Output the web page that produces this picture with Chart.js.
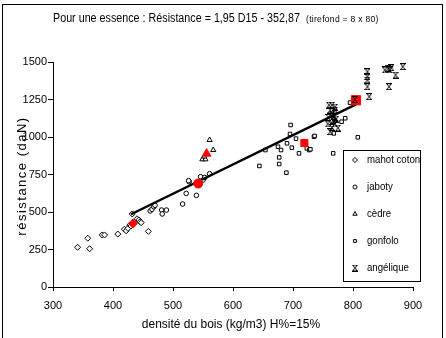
<!DOCTYPE html>
<html>
<head>
<meta charset="utf-8">
<script src="https://cdn.jsdelivr.net/npm/chart.js@4"></script>
<style>
  body { margin: 0; background: #fff; }
  #wrap { width: 446px; height: 338px; }
</style>
</head>
<body>
<div id="wrap"><canvas id="chart" width="446" height="338"></canvas></div>
<script>
// valeurs
let mahotCoton = [[341,265],[358,325],[361,255],[382,347],[386,347],[408,353],[419,385],[422,375],[425,391],[428,413],[430,407],[432,487],[440,455],[443,447],[445,435],[447,429],[459,371]]
let jaboty = [[462,507],[465,518],[468,535],[470,545],[481,513],[482,487],[489,513],[516,553],[522,624],[527,702],[526,709],[539,611],[546,735],[550,713],[553,730],[561,755]]
let cedre = [[549,851],[554,851],[552,870],[556,887],[561,980],[567,913]]
let gonfolo = [[644,807],[654,913],[675,935],[677,864],[677,820],[680,913],[689,762],[690,958],[695,1020],[696,1080],[698,929],[705,989],[710,891],[723,924],[727,913],[729,918],[735,1002],[736,1007],[767,891],[768,1024],[781,1102],[787,1125],[795,1229],[808,998]]
let angelique = [[760,1213],[765,1213],[770,1200],[762,1180],[770,1180],[765,1153],[759,1131],[768,1140],[767,1113],[772,1120],[758,1087],[770,1087],[765,1064],[775,1060],[762,1035],[803,1250],[824,1435],[824,1402],[824,1380],[824,1335],[827,1269],[853,1447],[859,1458],[861,1447],[864,1462],[871,1413],[883,1469],[860,1335]]
let moyennes = [[433,423],[542,690],[556,889],[719,960],[805,1245]]
let droite = [[430,485],[805,1217]]
let xTicks = [300,400,500,600,700,800,900]
let yTicks = [0,250,500,750,1000,1250,1500]
let legendLabels = ['mahot coton','jaboty','cèdre','gonfolo','angélique']

function pts(arr) {
    return arr.map(function(p) { return { x: p[0], y: p[1] } })
}

// marqueur "x" avec barres (angélique)
function makeCross(w, h, color) {
    let c = document.createElement('canvas')
    c.width = w
    c.height = h
    let g = c.getContext('2d')
    g.strokeStyle = color
    g.lineWidth = 1
    g.beginPath()
    g.moveTo(1, 1); g.lineTo(w - 1, h - 1)
    g.moveTo(w - 1, 1); g.lineTo(1, h - 1)
    g.moveTo(0, 0.5); g.lineTo(w, 0.5)
    g.moveTo(0, h - 0.5); g.lineTo(w, h - 0.5)
    g.stroke()
    return c
}
let crossImg = makeCross(6, 7, '#000')

let small = { borderColor: '#000', backgroundColor: '#fff', borderWidth: 1, showLine: false }

// texte un peu condensé, comme dans l'original
function narrowText(ctx, txt, x, y, sx) {
    ctx.save()
    ctx.translate(x, y)
    ctx.scale(sx, 1)
    ctx.fillText(txt, 0, 0)
    ctx.restore()
}

let decor = {
    id: 'decor',
    afterDraw: function(chart) {
        let ctx = chart.ctx
        ctx.save()
        // cadre
        ctx.strokeStyle = '#000'
        ctx.lineWidth = 1
        ctx.strokeRect(2.5, 4.5, 440, 345)
        // titre
        ctx.fillStyle = '#000'
        ctx.textBaseline = 'middle'
        ctx.textAlign = 'left'
        ctx.font = '12px "Liberation Sans", Arial'
        narrowText(ctx, 'Pour une essence : Résistance = 1,95 D15 - 352,87', 53, 19, 0.895)
        ctx.font = '9px "Liberation Sans", Arial'
        ctx.letterSpacing = '0.3px'
        narrowText(ctx, '(tirefond = 8 x 80)', 306, 20, 0.95)
        ctx.letterSpacing = '0px'
        // titres des axes
        ctx.textAlign = 'center'
        ctx.font = '12px "Liberation Sans", Arial'
        ctx.fillText('densité du bois (kg/m3) H%=15%', 231, 325)
        ctx.save()
        ctx.translate(22, 176)
        ctx.rotate(-Math.PI / 2)
        ctx.font = '13px "Liberation Sans", Arial'
        ctx.letterSpacing = '1.5px'
        ctx.fillText('résistance (daN)', 0, 0)
        ctx.restore()
        // légende
        ctx.fillStyle = '#fff'
        ctx.fillRect(343, 150, 77, 131)
        ctx.strokeStyle = '#000'
        ctx.strokeRect(343.5, 150.5, 77, 131)
        ctx.fillStyle = '#000'
        ctx.textAlign = 'left'
        ctx.font = '10.5px "Liberation Sans", Arial'
        let styles = ['rectRot', 'circle', 'triangle', 'rect', crossImg]
        let radii = [2.5, 2, 2.5, 2, 4]
        for (let i = 0; i < legendLabels.length; i++) {
            let y = 160 + i * 27
            ctx.strokeStyle = '#000'
            ctx.fillStyle = '#fff'
            ctx.lineWidth = 1
            Chart.helpers.drawPoint(ctx, { pointStyle: styles[i], radius: radii[i], borderWidth: 1 }, 355, y)
            ctx.fillStyle = '#000'
            narrowText(ctx, legendLabels[i], 367, y, 0.92)
        }
        ctx.restore()
    }
}

new Chart(document.getElementById('chart'), {
    type: 'scatter',
    data: {
        datasets: [
            Object.assign({ label: 'mahot coton', data: pts(mahotCoton), pointStyle: 'rectRot', pointRadius: 3, order: 5 }, small),
            Object.assign({ label: 'jaboty', data: pts(jaboty), pointStyle: 'circle', pointRadius: 2.3, order: 5 }, small),
            Object.assign({ label: 'cèdre', data: pts(cedre), pointStyle: 'triangle', pointRadius: 3, order: 5 }, small),
            Object.assign({ label: 'gonfolo', data: pts(gonfolo), pointStyle: 'rect', pointRadius: 2.5, order: 5 }, small),
            { label: 'moyennes', data: pts(moyennes), showLine: false, order: 2,
              pointStyle: ['rectRot', 'circle', 'triangle', 'rect', 'rect'],
              pointRadius: [4.5, 4.5, 5, 5, 6.5],
              backgroundColor: '#ff0000', borderColor: '#ff0000', borderWidth: 1 },
            { label: 'angélique', data: pts(angelique), pointStyle: crossImg, showLine: false, order: 1 },
            { label: 'droite', type: 'line', data: pts(droite), borderColor: '#000', borderWidth: 2.5,
              pointRadius: 0, fill: false, order: 3 }
        ]
    },
    options: {
        responsive: false,
        animation: false,
        layout: { padding: { left: 8, right: 33, top: 62, bottom: 0 } },
        plugins: {
            legend: { display: false },
            title: { display: false },
            tooltip: { enabled: false }
        },
        scales: {
            x: {
                type: 'linear', min: 300, max: 900,
                afterFit: function(s) { s.height = 51 },
                afterBuildTicks: function(s) { s.ticks = xTicks.map(function(v) { return { value: v } }) },
                border: { color: '#000', width: 1 },
                grid: { drawOnChartArea: false, color: '#000', tickLength: 4 },
                ticks: { color: '#000', font: { family: '"Liberation Sans", Arial', size: 11 }, padding: 8, maxRotation: 0,
                         callback: function(v) { return String(v) } }
            },
            y: {
                type: 'linear', min: 0, max: 1500,
                afterFit: function(s) { s.width = 45 },
                afterBuildTicks: function(s) { s.ticks = yTicks.map(function(v) { return { value: v } }) },
                border: { color: '#000', width: 1 },
                grid: { drawOnChartArea: false, color: '#000', tickLength: 5 },
                ticks: { color: '#000', font: { family: '"Liberation Sans", Arial', size: 11 }, padding: 1,
                         callback: function(v) { return String(v) } }
            }
        }
    },
    plugins: [decor]
});
</script>
</body>
</html>
